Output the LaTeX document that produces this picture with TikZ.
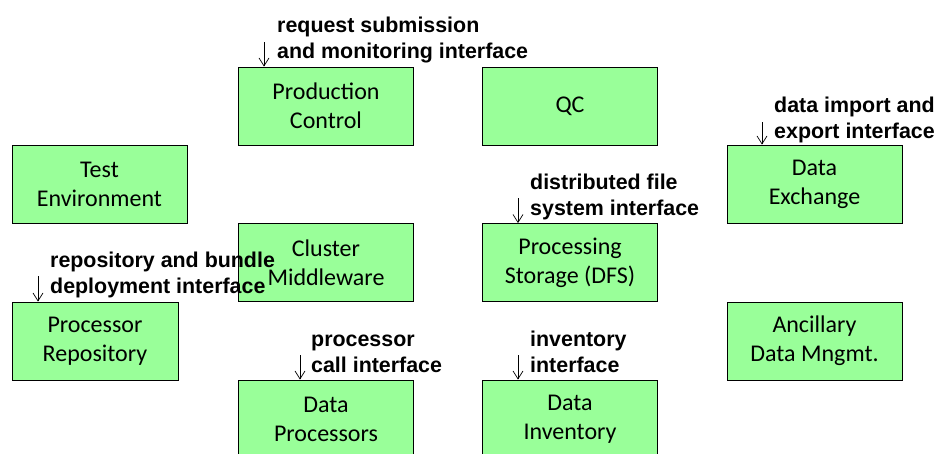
\documentclass[tikz,border=0pt]{standalone}
\usepackage{fontspec}
\setmainfont{Carlito}
\newfontfamily\lblfont{Liberation Sans}
\usetikzlibrary{arrows.meta}
\definecolor{boxgreen}{RGB}{153,255,153}
\tikzset{
  modul/.style = {draw=black, line width=0.8pt, fill=boxgreen, minimum width=175pt,
                  minimum height=78pt, inner sep=0pt, align=center,
                  font=\fontsize{24}{29}\selectfont},
  iflabel/.style = {anchor=base west, inner sep=0pt, align=left,
                    font=\lblfont\bfseries\fontsize{21.4}{26}\selectfont},
  ifpfeil/.style = {line width=0.7pt, -{Straight Barb[length=8pt,width=10pt]}}
}
\begin{document}
\begin{tikzpicture}[x=1pt, y=-1pt]
    \clip (0,0) rectangle (935,453);
    % Module
    \node[modul] (prodctrl) at (326,106) {Production\\Control};
    \node[modul] (qc) at (570,106) {QC};
    \node[modul] (testenv) at (99.5,184) {Test\\Environment};
    \node[modul] (dataexch) at (814.5,184) {Data\\Exchange};
    \node[modul] (cluster) at (326,262.5) {Cluster\\Middleware};
    \node[modul] (procstor) at (570,262.5) {Processing\\Storage (DFS)};
    \node[modul, minimum width=166pt] (procrepo) at (95,341) {Processor\\Repository};
    \node[modul] (ancillary) at (814.5,341) {Ancillary\\Data Mngmt.};
    \node[modul] (dataproc) at (326,419) {Data\\Processors};
    \node[modul] (datainv) at (570,419) {Data\\Inventory};
    % Schnittstellen
    \node[iflabel] (reqlbl) at (277,58) {request submission\\and monitoring interface};
    \node[iflabel] (implbl) at (774,138) {data import and\\export interface};
    \node[iflabel] (dfslbl) at (530,215) {distributed file\\system interface};
    \node[iflabel] (repolbl) at (50,293) {repository and bundle\\deployment interface};
    \node[iflabel] (calllbl) at (311,372) {processor\\call interface};
    \node[iflabel] (invlbl) at (530,372) {inventory\\interface};
    \coordinate (p1) at (264,42);
    \coordinate (p2) at (762,122);
    \coordinate (p3) at (518,198);
    \coordinate (p4) at (38,276);
    \coordinate (p5) at (300,355);
    \coordinate (p6) at (518,355);
    \draw[ifpfeil] (p1) -- (p1 |- prodctrl.north);
    \draw[ifpfeil] (p2) -- (p2 |- dataexch.north);
    \draw[ifpfeil] (p3) -- (p3 |- procstor.north);
    \draw[ifpfeil] (p4) -- (p4 |- procrepo.north);
    \draw[ifpfeil] (p5) -- (p5 |- dataproc.north);
    \draw[ifpfeil] (p6) -- (p6 |- datainv.north);
\end{tikzpicture}
\end{document}
